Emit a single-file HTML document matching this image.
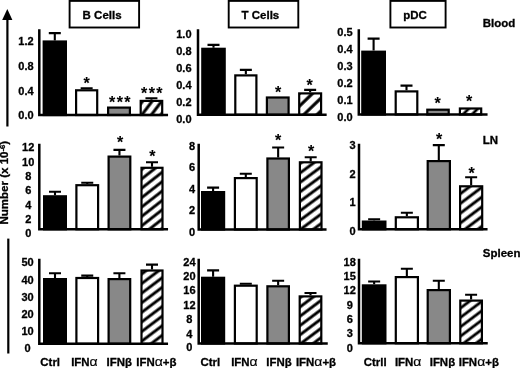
<!DOCTYPE html>
<html lang="en"><head><meta charset="utf-8"><title>Figure</title>
<style>html,body{margin:0;padding:0;background:#fff}svg{display:block;filter:blur(0.45px)}text{font-family:"Liberation Sans", sans-serif;font-weight:bold;fill:#000;stroke:#000;stroke-width:0.3px}.g{font-weight:normal;stroke-width:0.15px}.s{stroke-width:0.1px}</style></head><body>
<svg width="520" height="368" viewBox="0 0 520 368">
<defs>
<pattern id="h0" width="7.6" height="7.6" patternUnits="userSpaceOnUse" patternTransform="translate(143.1,113.2) rotate(-53)"><rect width="7.6" height="7.6" fill="#fff"/><rect y="0" width="7.6" height="1.5" fill="#000"/><rect y="6.1" width="7.6" height="1.5" fill="#000"/></pattern>
<pattern id="h1" width="9.2" height="9.2" patternUnits="userSpaceOnUse" patternTransform="translate(300.4,105.2) rotate(-44)"><rect width="9.2" height="9.2" fill="#fff"/><rect y="0" width="9.2" height="1.55" fill="#000"/><rect y="7.65" width="9.2" height="1.55" fill="#000"/></pattern>
<pattern id="h2" width="6.4" height="6.4" patternUnits="userSpaceOnUse" patternTransform="translate(466.4,111) rotate(-45)"><rect width="6.4" height="6.4" fill="#fff"/><rect y="0" width="6.4" height="1.35" fill="#000"/><rect y="5.05" width="6.4" height="1.35" fill="#000"/></pattern>
<pattern id="h3" width="7.4" height="7.4" patternUnits="userSpaceOnUse" patternTransform="translate(143,215.4) rotate(-38)"><rect width="7.4" height="7.4" fill="#fff"/><rect y="0" width="7.4" height="1.45" fill="#000"/><rect y="5.95" width="7.4" height="1.45" fill="#000"/></pattern>
<pattern id="h4" width="7.6" height="7.6" patternUnits="userSpaceOnUse" patternTransform="translate(301,210.1) rotate(-36.5)"><rect width="7.6" height="7.6" fill="#fff"/><rect y="0" width="7.6" height="1.45" fill="#000"/><rect y="6.15" width="7.6" height="1.45" fill="#000"/></pattern>
<pattern id="h5" width="7.8" height="7.8" patternUnits="userSpaceOnUse" patternTransform="translate(462,212) rotate(-37)"><rect width="7.8" height="7.8" fill="#fff"/><rect y="0" width="7.8" height="1.45" fill="#000"/><rect y="6.35" width="7.8" height="1.45" fill="#000"/></pattern>
<pattern id="h6" width="7.67" height="7.67" patternUnits="userSpaceOnUse" patternTransform="translate(143,321) rotate(-37)"><rect width="7.67" height="7.67" fill="#fff"/><rect y="0" width="7.67" height="1.45" fill="#000"/><rect y="6.22" width="7.67" height="1.45" fill="#000"/></pattern>
<pattern id="h7" width="7.43" height="7.43" patternUnits="userSpaceOnUse" patternTransform="translate(301,324.8) rotate(-37)"><rect width="7.43" height="7.43" fill="#fff"/><rect y="0" width="7.43" height="1.45" fill="#000"/><rect y="5.98" width="7.43" height="1.45" fill="#000"/></pattern>
<pattern id="h8" width="7.5" height="7.5" patternUnits="userSpaceOnUse" patternTransform="translate(462,325.7) rotate(-37)"><rect width="7.5" height="7.5" fill="#fff"/><rect y="0" width="7.5" height="1.4" fill="#000"/><rect y="6.1" width="7.5" height="1.4" fill="#000"/></pattern>
</defs>
<rect width="520" height="368" fill="#fff"/>
<line x1="7.4" y1="18" x2="7.4" y2="126.5" stroke="#000" stroke-width="2.2"/>
<polygon points="7.3,9 2.2,19.9 12.4,19.9" fill="#000"/>
<line x1="8.3" y1="238.6" x2="8.3" y2="353.5" stroke="#000" stroke-width="2.2"/>
<text transform="translate(8.3,182.7) rotate(-90) scale(1.10,1)" text-anchor="middle" font-size="10.5">Number (x 10<tspan dy="-3.5" font-size="7">-6</tspan><tspan dy="3.5">)</tspan></text>
<rect x="69.6" y="0.9" width="69.5" height="26.6" fill="#fff" stroke="#000" stroke-width="1.9"/>
<text transform="translate(102.1,19) scale(1.045,1)" text-anchor="middle" font-size="11">B Cells</text>
<rect x="228.7" y="0.9" width="69.6" height="26.6" fill="#fff" stroke="#000" stroke-width="1.9"/>
<text transform="translate(260.4,19) scale(1.045,1)" text-anchor="middle" font-size="11">T Cells</text>
<rect x="390.4" y="0.9" width="55.2" height="26.6" fill="#fff" stroke="#000" stroke-width="1.9"/>
<text transform="translate(415,19) scale(1.045,1)" text-anchor="middle" font-size="11">pDC</text>
<text transform="translate(482.8,26.6) scale(1.045,1)" font-size="11">Blood</text>
<text transform="translate(482.8,143.5) scale(1.045,1)" font-size="11">LN</text>
<text transform="translate(482.8,256.6) scale(1.045,1)" font-size="11">Spleen</text>
<path d="M54.8 40.4 V33.1 M48.8 33.1 H60.8" stroke="#000" stroke-width="2.1" fill="none"/>
<rect x="43.7" y="41.5" width="22.2" height="73.5" fill="#000" stroke="#000" stroke-width="2.2"/>
<path d="M86.65 89.2 V88.2 M80.65 88.2 H92.65" stroke="#000" stroke-width="2.1" fill="none"/>
<rect x="76.1" y="90.3" width="21.1" height="24.7" fill="#fff" stroke="#000" stroke-width="2.2"/>
<rect x="108.1" y="107.6" width="21.8" height="7.4" fill="#888" stroke="#000" stroke-width="2.2"/>
<path d="M151.45 99.8 V98.3 M145.45 98.3 H157.45" stroke="#000" stroke-width="2.1" fill="none"/>
<rect x="140.7" y="100.9" width="21.5" height="14.1" fill="url(#h0)" stroke="#000" stroke-width="2.2"/>
<path d="M39.3 30.5 V115 H166.8" stroke="#000" stroke-width="2.5" fill="none" stroke-linecap="square"/>
<text x="26" y="45.1" text-anchor="middle" font-size="11">1.2</text>
<text x="26" y="70.4" text-anchor="middle" font-size="11">0.8</text>
<text x="26" y="94.9" text-anchor="middle" font-size="11">0.4</text>
<text x="26" y="118.9" text-anchor="middle" font-size="11">0.0</text>
<text class="s" x="86.7" y="89.35" text-anchor="middle" font-size="16" letter-spacing="0">*</text>
<text class="s" x="120.5" y="108.25" text-anchor="middle" font-size="16" letter-spacing="1.43">***</text>
<text class="s" x="152.5" y="99.45" text-anchor="middle" font-size="16" letter-spacing="1.43">***</text>
<path d="M213.5 47.7 V44.9 M207.5 44.9 H219.5" stroke="#000" stroke-width="2.1" fill="none"/>
<rect x="202.3" y="48.8" width="22.4" height="66" fill="#000" stroke="#000" stroke-width="2.2"/>
<path d="M245.85 74.3 V69.9 M239.85 69.9 H251.85" stroke="#000" stroke-width="2.1" fill="none"/>
<rect x="235.3" y="75.4" width="21.1" height="39.4" fill="#fff" stroke="#000" stroke-width="2.2"/>
<rect x="266.9" y="97.5" width="21.7" height="17.3" fill="#888" stroke="#000" stroke-width="2.2"/>
<path d="M310.15 92.3 V89.9 M304.15 89.9 H316.15" stroke="#000" stroke-width="2.1" fill="none"/>
<rect x="299.2" y="93.4" width="21.9" height="21.4" fill="url(#h1)" stroke="#000" stroke-width="2.2"/>
<path d="M198 30.5 V114.8 H325.4" stroke="#000" stroke-width="2.5" fill="none" stroke-linecap="square"/>
<text x="183.9" y="37.9" text-anchor="middle" font-size="11">1.0</text>
<text x="183.9" y="54.95" text-anchor="middle" font-size="11">0.8</text>
<text x="183.9" y="72" text-anchor="middle" font-size="11">0.6</text>
<text x="183.9" y="89.05" text-anchor="middle" font-size="11">0.4</text>
<text x="183.9" y="106.1" text-anchor="middle" font-size="11">0.2</text>
<text x="183.9" y="123.1" text-anchor="middle" font-size="11">0.0</text>
<text class="s" x="278" y="97.95" text-anchor="middle" font-size="16" letter-spacing="0">*</text>
<text class="s" x="309.7" y="91.05" text-anchor="middle" font-size="16" letter-spacing="0">*</text>
<path d="M373.6 50.6 V38.6 M367.6 38.6 H379.6" stroke="#000" stroke-width="2.1" fill="none"/>
<rect x="362.3" y="51.7" width="22.6" height="62.8" fill="#000" stroke="#000" stroke-width="2.2"/>
<path d="M406.5 90.3 V85.6 M400.5 85.6 H412.5" stroke="#000" stroke-width="2.1" fill="none"/>
<rect x="395.7" y="91.4" width="21.6" height="23.1" fill="#fff" stroke="#000" stroke-width="2.2"/>
<rect x="427.3" y="109.7" width="21.4" height="4.8" fill="#888" stroke="#000" stroke-width="2.2"/>
<rect x="459.9" y="108.5" width="21.3" height="6" fill="url(#h2)" stroke="#000" stroke-width="2.2"/>
<path d="M358.8 30.5 V114.5 H486.3" stroke="#000" stroke-width="2.5" fill="none" stroke-linecap="square"/>
<text x="345" y="35.7" text-anchor="middle" font-size="11">0.5</text>
<text x="345" y="52.8" text-anchor="middle" font-size="11">0.4</text>
<text x="345" y="69.9" text-anchor="middle" font-size="11">0.3</text>
<text x="345" y="87" text-anchor="middle" font-size="11">0.2</text>
<text x="345" y="104.1" text-anchor="middle" font-size="11">0.1</text>
<text x="345" y="121.3" text-anchor="middle" font-size="11">0.0</text>
<text class="s" x="437.7" y="109.15" text-anchor="middle" font-size="16" letter-spacing="0">*</text>
<text class="s" x="469.2" y="107.35" text-anchor="middle" font-size="16" letter-spacing="0">*</text>
<path d="M55 195.2 V191.8 M49 191.8 H61" stroke="#000" stroke-width="2.1" fill="none"/>
<rect x="44.1" y="196.3" width="21.8" height="33" fill="#000" stroke="#000" stroke-width="2.2"/>
<path d="M87.25 184.1 V182.8 M81.25 182.8 H93.25" stroke="#000" stroke-width="2.1" fill="none"/>
<rect x="76.4" y="185.2" width="21.7" height="44.1" fill="#fff" stroke="#000" stroke-width="2.2"/>
<path d="M119.45 155.5 V149.9 M113.45 149.9 H125.45" stroke="#000" stroke-width="2.1" fill="none"/>
<rect x="108.6" y="156.6" width="21.7" height="72.7" fill="#888" stroke="#000" stroke-width="2.2"/>
<path d="M152 166.7 V162.2 M146 162.2 H158" stroke="#000" stroke-width="2.1" fill="none"/>
<rect x="141.5" y="167.8" width="21" height="61.5" fill="url(#h3)" stroke="#000" stroke-width="2.2"/>
<path d="M39.3 145 V229.3 H166.8" stroke="#000" stroke-width="2.5" fill="none" stroke-linecap="square"/>
<text x="28.2" y="151.4" text-anchor="middle" font-size="11">12</text>
<text x="28.2" y="165.7" text-anchor="middle" font-size="11">10</text>
<text x="28.2" y="180" text-anchor="middle" font-size="11">8</text>
<text x="28.2" y="194.3" text-anchor="middle" font-size="11">6</text>
<text x="28.2" y="208.6" text-anchor="middle" font-size="11">4</text>
<text x="28.2" y="222.9" text-anchor="middle" font-size="11">2</text>
<text x="28.2" y="237.2" text-anchor="middle" font-size="11">0</text>
<text class="s" x="120" y="147.95" text-anchor="middle" font-size="16" letter-spacing="0">*</text>
<text class="s" x="152.3" y="161.65" text-anchor="middle" font-size="16" letter-spacing="0">*</text>
<path d="M213.1 191 V187.6 M207.1 187.6 H219.1" stroke="#000" stroke-width="2.1" fill="none"/>
<rect x="202.1" y="192.1" width="22" height="37.4" fill="#000" stroke="#000" stroke-width="2.2"/>
<path d="M245.8 177 V173.8 M239.8 173.8 H251.8" stroke="#000" stroke-width="2.1" fill="none"/>
<rect x="234.9" y="178.1" width="21.8" height="51.4" fill="#fff" stroke="#000" stroke-width="2.2"/>
<path d="M278.15 157.4 V147.5 M272.15 147.5 H284.15" stroke="#000" stroke-width="2.1" fill="none"/>
<rect x="267.4" y="158.5" width="21.5" height="71" fill="#888" stroke="#000" stroke-width="2.2"/>
<path d="M310.7 161.2 V157.2 M304.7 157.2 H316.7" stroke="#000" stroke-width="2.1" fill="none"/>
<rect x="299.9" y="162.3" width="21.6" height="67.2" fill="url(#h4)" stroke="#000" stroke-width="2.2"/>
<path d="M198.7 145 V229.5 H325.3" stroke="#000" stroke-width="2.5" fill="none" stroke-linecap="square"/>
<text x="192" y="149.6" text-anchor="middle" font-size="11">8</text>
<text x="192" y="171.1" text-anchor="middle" font-size="11">6</text>
<text x="192" y="192.6" text-anchor="middle" font-size="11">4</text>
<text x="192" y="214.1" text-anchor="middle" font-size="11">2</text>
<text x="192" y="235.6" text-anchor="middle" font-size="11">0</text>
<text class="s" x="278" y="146.45" text-anchor="middle" font-size="16" letter-spacing="0">*</text>
<text class="s" x="311" y="157.05" text-anchor="middle" font-size="16" letter-spacing="0">*</text>
<path d="M374.15 220.5 V219.3 M368.15 219.3 H380.15" stroke="#000" stroke-width="2.1" fill="none"/>
<rect x="362.9" y="221.6" width="22.5" height="7.7" fill="#000" stroke="#000" stroke-width="2.2"/>
<path d="M406.85 216.2 V212.7 M400.85 212.7 H412.85" stroke="#000" stroke-width="2.1" fill="none"/>
<rect x="395.8" y="217.3" width="22.1" height="12" fill="#fff" stroke="#000" stroke-width="2.2"/>
<path d="M438.8 160 V145.1 M432.8 145.1 H444.8" stroke="#000" stroke-width="2.1" fill="none"/>
<rect x="427.7" y="161.1" width="22.2" height="68.2" fill="#888" stroke="#000" stroke-width="2.2"/>
<path d="M471.15 185.2 V177.3 M465.15 177.3 H477.15" stroke="#000" stroke-width="2.1" fill="none"/>
<rect x="460.1" y="186.3" width="22.1" height="43" fill="url(#h5)" stroke="#000" stroke-width="2.2"/>
<path d="M359 145 V229.3 H486.3" stroke="#000" stroke-width="2.5" fill="none" stroke-linecap="square"/>
<text x="352.6" y="148.9" text-anchor="middle" font-size="11">3</text>
<text x="352.6" y="177.5" text-anchor="middle" font-size="11">2</text>
<text x="352.6" y="206.1" text-anchor="middle" font-size="11">1</text>
<text x="352.6" y="234.9" text-anchor="middle" font-size="11">0</text>
<text class="s" x="439.2" y="144.95" text-anchor="middle" font-size="16" letter-spacing="0">*</text>
<text class="s" x="471.7" y="178.65" text-anchor="middle" font-size="16" letter-spacing="0">*</text>
<path d="M55 278 V273.2 M49 273.2 H61" stroke="#000" stroke-width="2.1" fill="none"/>
<rect x="44.1" y="279.1" width="21.8" height="64.7" fill="#000" stroke="#000" stroke-width="2.2"/>
<path d="M87.25 276.9 V275.6 M81.25 275.6 H93.25" stroke="#000" stroke-width="2.1" fill="none"/>
<rect x="76.4" y="278" width="21.7" height="65.8" fill="#fff" stroke="#000" stroke-width="2.2"/>
<path d="M119.4 278 V273.2 M113.4 273.2 H125.4" stroke="#000" stroke-width="2.1" fill="none"/>
<rect x="108.6" y="279.1" width="21.6" height="64.7" fill="#888" stroke="#000" stroke-width="2.2"/>
<path d="M152 269.4 V264.6 M146 264.6 H158" stroke="#000" stroke-width="2.1" fill="none"/>
<rect x="141.5" y="270.5" width="21" height="73.3" fill="url(#h6)" stroke="#000" stroke-width="2.2"/>
<path d="M39.3 260 V343.8 H166.8" stroke="#000" stroke-width="2.5" fill="none" stroke-linecap="square"/>
<text x="27.5" y="266.4" text-anchor="middle" font-size="11">50</text>
<text x="27.5" y="283.5" text-anchor="middle" font-size="11">40</text>
<text x="27.5" y="300.6" text-anchor="middle" font-size="11">30</text>
<text x="27.5" y="317.7" text-anchor="middle" font-size="11">20</text>
<text x="27.5" y="334.8" text-anchor="middle" font-size="11">10</text>
<text x="27.5" y="351.9" text-anchor="middle" font-size="11">0</text>
<path d="M213.1 276.7 V270.4 M207.1 270.4 H219.1" stroke="#000" stroke-width="2.1" fill="none"/>
<rect x="202.1" y="277.8" width="22" height="65.7" fill="#000" stroke="#000" stroke-width="2.2"/>
<path d="M245.8 284.6 V283.8 M239.8 283.8 H251.8" stroke="#000" stroke-width="2.1" fill="none"/>
<rect x="234.9" y="285.7" width="21.8" height="57.8" fill="#fff" stroke="#000" stroke-width="2.2"/>
<path d="M278.15 285.2 V280.8 M272.15 280.8 H284.15" stroke="#000" stroke-width="2.1" fill="none"/>
<rect x="267.4" y="286.3" width="21.5" height="57.2" fill="#888" stroke="#000" stroke-width="2.2"/>
<path d="M310.5 295.3 V293 M304.5 293 H316.5" stroke="#000" stroke-width="2.1" fill="none"/>
<rect x="299.7" y="296.4" width="21.6" height="47.1" fill="url(#h7)" stroke="#000" stroke-width="2.2"/>
<path d="M198.7 260 V343.5 H326.5" stroke="#000" stroke-width="2.5" fill="none" stroke-linecap="square"/>
<text x="189.4" y="265.7" text-anchor="middle" font-size="11">24</text>
<text x="189.4" y="280" text-anchor="middle" font-size="11">20</text>
<text x="189.4" y="294.3" text-anchor="middle" font-size="11">16</text>
<text x="189.4" y="308.6" text-anchor="middle" font-size="11">12</text>
<text x="189.4" y="322.9" text-anchor="middle" font-size="11">8</text>
<text x="189.4" y="337.7" text-anchor="middle" font-size="11">4</text>
<text x="189.4" y="351.4" text-anchor="middle" font-size="11">0</text>
<path d="M374.15 284.3 V281.5 M368.15 281.5 H380.15" stroke="#000" stroke-width="2.1" fill="none"/>
<rect x="362.9" y="285.4" width="22.5" height="57.9" fill="#000" stroke="#000" stroke-width="2.2"/>
<path d="M406.85 276 V268.7 M400.85 268.7 H412.85" stroke="#000" stroke-width="2.1" fill="none"/>
<rect x="395.8" y="277.1" width="22.1" height="66.2" fill="#fff" stroke="#000" stroke-width="2.2"/>
<path d="M438.8 289 V280.8 M432.8 280.8 H444.8" stroke="#000" stroke-width="2.1" fill="none"/>
<rect x="427.7" y="290.1" width="22.2" height="53.2" fill="#888" stroke="#000" stroke-width="2.2"/>
<path d="M471.1 299.5 V294.7 M465.1 294.7 H477.1" stroke="#000" stroke-width="2.1" fill="none"/>
<rect x="460.3" y="300.6" width="21.6" height="42.7" fill="url(#h8)" stroke="#000" stroke-width="2.2"/>
<path d="M359 260 V343.3 H486.5" stroke="#000" stroke-width="2.5" fill="none" stroke-linecap="square"/>
<text x="349.7" y="265.7" text-anchor="middle" font-size="11">18</text>
<text x="349.7" y="280" text-anchor="middle" font-size="11">15</text>
<text x="349.7" y="294.3" text-anchor="middle" font-size="11">12</text>
<text x="349.7" y="308.6" text-anchor="middle" font-size="11">9</text>
<text x="349.7" y="322.9" text-anchor="middle" font-size="11">6</text>
<text x="349.7" y="337.2" text-anchor="middle" font-size="11">3</text>
<text x="349.7" y="351.5" text-anchor="middle" font-size="11">0</text>
<text transform="translate(50.2,365.6) scale(1.04,1)" text-anchor="middle" font-size="11">Ctrl</text>
<text transform="translate(84.4,365.6) scale(1.04,1)" text-anchor="middle" font-size="11">IFN<tspan class="g" font-size="13.5">α</tspan></text>
<text transform="translate(119.2,365.6) scale(1.04,1)" text-anchor="middle" font-size="11">IFNβ</text>
<text transform="translate(156.4,365.6) scale(1.04,1)" text-anchor="middle" font-size="11">IFN<tspan class="g" font-size="13.5">α</tspan>+β</text>
<text transform="translate(210.3,365.6) scale(1.04,1)" text-anchor="middle" font-size="11">Ctrl</text>
<text transform="translate(244.4,365.6) scale(1.04,1)" text-anchor="middle" font-size="11">IFN<tspan class="g" font-size="13.5">α</tspan></text>
<text transform="translate(279,365.6) scale(1.04,1)" text-anchor="middle" font-size="11">IFNβ</text>
<text transform="translate(316,365.6) scale(1.04,1)" text-anchor="middle" font-size="11">IFN<tspan class="g" font-size="13.5">α</tspan>+β</text>
<text transform="translate(375.2,365.6) scale(1.04,1)" text-anchor="middle" font-size="11">Ctrll</text>
<text transform="translate(408.2,365.6) scale(1.04,1)" text-anchor="middle" font-size="11">IFN<tspan class="g" font-size="13.5">α</tspan></text>
<text transform="translate(442.4,365.6) scale(1.04,1)" text-anchor="middle" font-size="11">IFNβ</text>
<text transform="translate(478.8,365.6) scale(1.04,1)" text-anchor="middle" font-size="11">IFN<tspan class="g" font-size="13.5">α</tspan>+β</text>
</svg></body></html>
